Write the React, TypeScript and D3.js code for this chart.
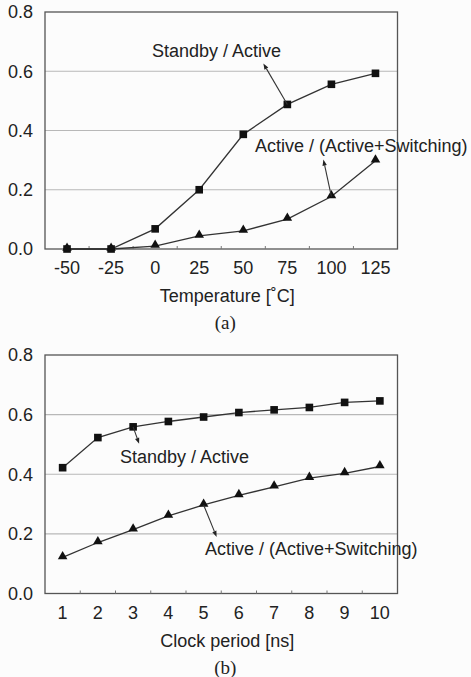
import React from "react";
import * as d3 from "d3";

const tempCategories = ["-50", "-25", "0", "25", "50", "75", "100", "125"];
const tempStandby = [0.0, 0.0, 0.068, 0.2, 0.387, 0.488, 0.556, 0.593];
const tempActive = [0.0, 0.0, 0.01, 0.044, 0.061, 0.101, 0.177, 0.298];

const clockCategories = ["1", "2", "3", "4", "5", "6", "7", "8", "9", "10"];
const clockStandby = [0.422, 0.523, 0.559, 0.577, 0.592, 0.607, 0.616, 0.624, 0.641, 0.646];
const clockActive = [0.121, 0.171, 0.214, 0.26, 0.297, 0.329, 0.358, 0.387, 0.403, 0.426];

const yTicks = [0.0, 0.2, 0.4, 0.6, 0.8];

const FONT = "Liberation Sans, Arial, sans-serif";
const FS = 18;

type Ann = { text: string; idx: number; tx: number; ty: number; ax: number; ay: number; series: "s" | "a" };

function Panel(props: {
  top: number;
  bottom: number;
  cats: string[];
  s1: number[];
  s2: number[];
  xTitle: string;
  letter: string;
  anns: Ann[];
}) {
  const { top, bottom, cats, s1, s2, xTitle, letter, anns } = props;
  const left = 45, right = 397.5;
  const x = d3.scaleBand<string>().domain(cats).range([left, right]).padding(0);
  const cx = (c: string) => (x(c) as number) + x.bandwidth() / 2;
  const y = d3.scaleLinear().domain([0, 0.8]).range([bottom, top]);
  const line = d3.line<number>().x((_, i) => cx(cats[i])).y((v) => y(v));
  const sq = d3.symbol().type(d3.symbolSquare).size(58)();
  const tri = d3.symbol().type(d3.symbolTriangle).size(40)();
  const boundaries = cats.slice(1).map((c) => x(c) as number);
  return (
    <g>
      {yTicks.slice(1, 4).map((t) => (
        <line key={t} x1={left} x2={right} y1={y(t)} y2={y(t)} stroke="#b8b8b8" strokeWidth={1.2} />
      ))}
      <rect x={left} y={top} width={right - left} height={bottom - top} fill="none" stroke="#555" strokeWidth={1.3} />
      {boundaries.map((b, i) => (
        <line key={i} x1={b} x2={b} y1={bottom} y2={bottom - 3} stroke="#777" strokeWidth={1} />
      ))}
      {yTicks.map((t) => (
        <text key={t} x={33} y={y(t)} dy="0.35em" textAnchor="end" fontFamily={FONT} fontSize={FS} fill="#222">
          {t.toFixed(1)}
        </text>
      ))}
      {cats.map((c) => (
        <text key={c} x={cx(c)} y={bottom + 25} textAnchor="middle" fontFamily={FONT} fontSize={FS} fill="#222">
          {c}
        </text>
      ))}
      <text x={(left + right) / 2 + 6} y={bottom + 53} textAnchor="middle" fontFamily={FONT} fontSize={FS} fill="#222">
        {xTitle}
      </text>
      <text x={(left + right) / 2 + 4} y={bottom + 80} textAnchor="middle" fontFamily="Liberation Serif, Times New Roman, serif" fontSize={19} fill="#222">
        {letter}
      </text>
      <path d={line(s1) as string} fill="none" stroke="#333" strokeWidth={1.3} />
      <path d={line(s2) as string} fill="none" stroke="#333" strokeWidth={1.3} />
      {s2.map((v, i) => (
        <path key={"t" + i} d={tri as string} transform={`translate(${cx(cats[i])},${y(v) - 1})`} fill="#111" />
      ))}
      {s1.map((v, i) => (
        <path key={"s" + i} d={sq as string} transform={`translate(${cx(cats[i])},${y(v)})`} fill="#111" />
      ))}
      {anns.map((a, i) => {
        const vals = a.series === "s" ? s1 : s2;
        const x0 = cx(cats[a.idx]);
        const y0 = y(vals[a.idx]);
        const x1 = x0 + a.ax, y1 = y0 + a.ay;
        const ang = Math.atan2(y1 - y0, x1 - x0);
        const L = 6, W = 2.2;
        const bx = x1 - L * Math.cos(ang), by = y1 - L * Math.sin(ang);
        const px = -Math.sin(ang) * W, py = Math.cos(ang) * W;
        return (
          <g key={i}>
            <line x1={x0} y1={y0} x2={bx} y2={by} stroke="#333" strokeWidth={1.1} />
            <path d={`M${x1},${y1}L${bx + px},${by + py}L${bx - px},${by - py}Z`} fill="#222" />
            <text x={a.tx} y={a.ty} fontFamily={FONT} fontSize={FS} fill="#222">
              {a.text}
            </text>
          </g>
        );
      })}
    </g>
  );
}

export default function App() {
  const annsA: Ann[] = [
    { text: "Standby / Active", idx: 5, series: "s", tx: 152, ty: 57, ax: -24, ay: -41 },
    { text: "Active / (Active+Switching)", idx: 6, series: "a", tx: 255, ty: 152, ax: -8, ay: -37 },
  ];
  const annsB: Ann[] = [
    { text: "Standby / Active", idx: 2, series: "s", tx: 120, ty: 463, ax: 6, ay: 17 },
    { text: "Active / (Active+Switching)", idx: 4, series: "a", tx: 205, ty: 555, ax: 13, ay: 32 },
  ];
  return (
    <svg width={471} height={677} style={{ position: "absolute", left: 0, top: 0, background: "#fcfcfc" }}>
      <Panel top={12} bottom={249} cats={tempCategories} s1={tempStandby} s2={tempActive} xTitle="Temperature [˚C]" letter="(a)" anns={annsA} />
      <Panel top={355} bottom={593.5} cats={clockCategories} s1={clockStandby} s2={clockActive} xTitle="Clock period [ns]" letter="(b)" anns={annsB} />
    </svg>
  );
}
